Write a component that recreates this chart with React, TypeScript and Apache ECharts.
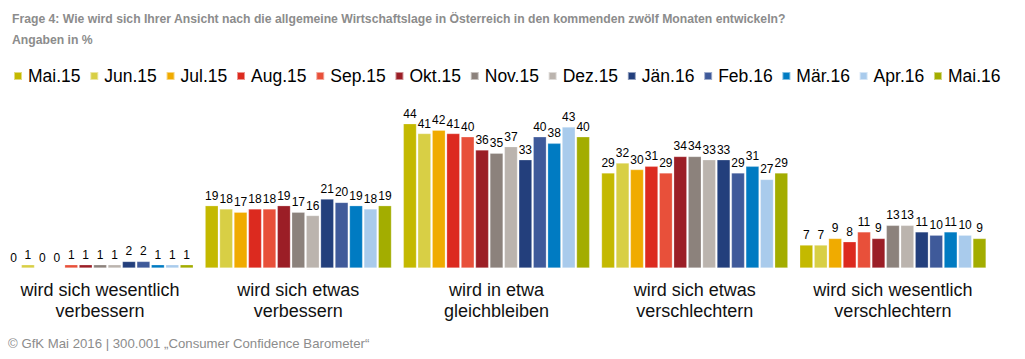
import React, { useEffect, useRef } from "react";
import * as echarts from "echarts";

const categories = [
  "wird sich wesentlich\nverbessern",
  "wird sich etwas\nverbessern",
  "wird in etwa\ngleichbleiben",
  "wird sich etwas\nverschlechtern",
  "wird sich wesentlich\nverschlechtern",
];

const seriesNames = [
  "Mai.15", "Jun.15", "Jul.15", "Aug.15", "Sep.15", "Okt.15", "Nov.15",
  "Dez.15", "Jän.16", "Feb.16", "Mär.16", "Apr.16", "Mai.16",
];

const seriesColors = [
  "#c4b900", "#d8cf45", "#f0ab00", "#dc2a1f", "#e8503a", "#9b1e26", "#8c827c",
  "#bbb4ae", "#233f7c", "#3f5a9a", "#007bc2", "#a9cbec", "#a3ad00",
];

// values per series, in category order
const mai15 = [0, 19, 44, 29, 7];
const jun15 = [1, 18, 41, 32, 7];
const jul15 = [0, 17, 42, 30, 9];
const aug15 = [0, 18, 41, 31, 8];
const sep15 = [1, 18, 40, 29, 11];
const okt15 = [1, 19, 36, 34, 9];
const nov15 = [1, 17, 35, 34, 13];
const dez15 = [1, 16, 37, 33, 13];
const jan16 = [2, 21, 33, 33, 11];
const feb16 = [2, 20, 40, 29, 10];
const mar16 = [1, 19, 38, 31, 11];
const apr16 = [1, 18, 43, 27, 10];
const mai16 = [1, 19, 40, 29, 9];

const seriesValues = [
  mai15, jun15, jul15, aug15, sep15, okt15, nov15, dez15, jan16, feb16, mar16, apr16, mai16,
];

const titleText =
  "Frage 4: Wie wird sich Ihrer Ansicht nach die allgemeine Wirtschaftslage in Österreich in den kommenden zwölf Monaten entwickeln?";
const subtitleText = "Angaben in %";
const footerText = "© GfK Mai 2016 | 300.001 „Consumer Confidence Barometer“";

export default function App() {
  const ref = useRef<HTMLDivElement>(null);
  useEffect(() => {
    document.body.style.margin = "0";
    if (!ref.current) return;
    const chart = echarts.init(ref.current, undefined, { renderer: "svg" });
    const font = "'Liberation Sans', Arial, sans-serif";
    chart.setOption({
      animation: false,
      textStyle: { fontFamily: font },
      title: {
        text: titleText,
        subtext: subtitleText,
        left: 7,
        top: 8,
        itemGap: 9,
        textStyle: { fontSize: 12.2, fontWeight: "bold", color: "#8c8c8c", fontFamily: font },
        subtextStyle: { fontSize: 12.2, fontWeight: "bold", color: "#8c8c8c", fontFamily: font },
      },
      legend: {
        data: seriesNames,
        left: 8,
        top: 62,
        itemWidth: 8,
        itemHeight: 8,
        itemGap: 8.75,
        icon: "rect",
        textStyle: { fontSize: 17.5, color: "#000", fontFamily: font, padding: [0, 0, 0, 1] },
      },
      grid: { left: 1, right: 33, top: 104, bottom: 91 },
      xAxis: {
        type: "category",
        data: categories,
        axisLine: { show: false },
        axisTick: { show: false },
        axisLabel: {
          fontSize: 18,
          color: "#111",
          lineHeight: 21,
          margin: 11,
          interval: 0,
          fontFamily: font,
        },
      },
      yAxis: {
        type: "value",
        min: 0,
        max: 50,
        show: false,
        splitLine: { show: false },
      },
      graphic: [
        {
          type: "text",
          left: 8,
          top: 337,
          style: { text: footerText, fontSize: 13.2, fill: "#8c8c8c", fontFamily: font },
        },
      ],
      series: seriesNames.map((name, i) => ({
        name,
        type: "bar",
        data: seriesValues[i],
        barGap: "10%",
        barCategoryGap: "6%",
        itemStyle: { color: seriesColors[i], borderColor: "rgba(255,255,255,0.5)", borderWidth: 0.5 },
        label: {
          show: true,
          position: "top",
          distance: 4,
          fontSize: 12,
          color: "#000",
          fontFamily: font,
        },
      })),
    });
    return () => chart.dispose();
  }, []);
  return <div ref={ref} style={{ width: 1025, height: 359 }} />;
}
